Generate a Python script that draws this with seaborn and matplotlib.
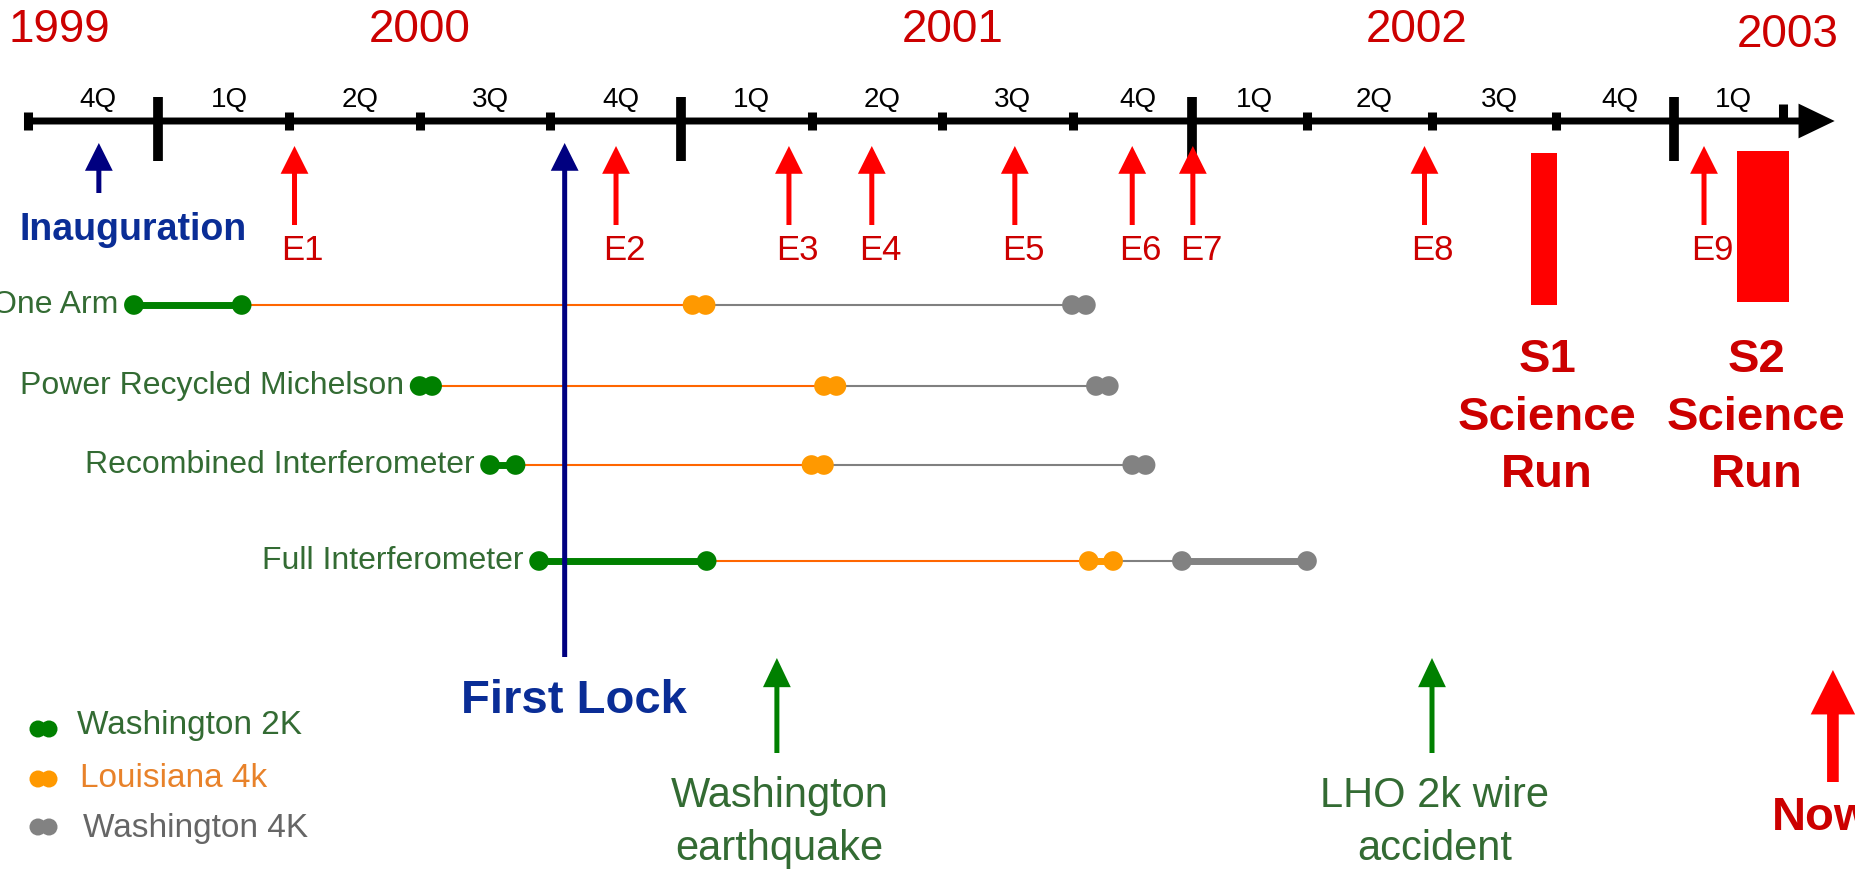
import numpy as np
import pandas as pd
import matplotlib
matplotlib.use("Agg")
import matplotlib.pyplot as plt
import seaborn as sns

# quarter boundaries of the hand-drawn time axis and where they sit on the slide (px)
quarter_dates = [1999.5 + 0.25 * i for i in range(17)]
quarter_px = [-103.1, 27.7, 158.5, 289.3, 419.6, 550, 681, 812, 942, 1073,
              1192.4, 1307, 1432, 1556, 1674.5, 1783, 1891.5]

years = ["1999", "2000", "2001", "2002", "2003"]
year_label_x = [1999.81, 2000.50, 2001.52, 2002.47, 2003.26]
quarter_starts = [1999.75 + 0.25 * i for i in range(14)]
quarter_names = ["4Q", "1Q", "2Q", "3Q", "4Q", "1Q", "2Q", "3Q", "4Q",
                 "1Q", "2Q", "3Q", "4Q", "1Q"]

# engineering runs
events = ["E1", "E2", "E3", "E4", "E5", "E6", "E7", "E8", "E9"]
event_dates = [2000.26, 2000.876, 2001.206, 2001.365, 2001.639, 2001.874,
               2002.001, 2002.485, 2003.068]

inauguration = 1999.886
first_lock = 2000.778
runs = ["S1", "S2"]
run_start = [2002.70, 2003.145]
run_end = [2002.753, 2003.264]
incidents = ["Washington\nearthquake", "LHO 2k wire\naccident"]
incident_dates = [2001.183, 2002.50]
now_date = 2003.365

# commissioning milestones per configuration
rows = ["One Arm", "Power Recycled Michelson", "Recombined Interferometer",
        "Full Interferometer"]
wa2k_start = [1999.953, 2000.500, 2000.635, 2000.729]
wa2k_end = [2000.159, 2000.524, 2000.684, 2001.049]
la4k_start = [2001.022, 2001.273, 2001.249, 2001.783]
la4k_end = [2001.047, 2001.297, 2001.273, 2001.834]
wa4k_start = [2001.748, 2001.798, 2001.874, 2001.978]
wa4k_end = [2001.777, 2001.825, 2001.902, 2002.250]

sites = ["Washington 2K", "Louisiana 4k", "Washington 4K"]
site_colors = {"Washington 2K": "#008000", "Louisiana 4k": "#FF9900",
               "Washington 4K": "#828282"}
site_text = {"Washington 2K": "#336B33", "Louisiana 4k": "#E8822A",
             "Washington 4K": "#666666"}

row_y = [305, 386, 465, 561]

sns.set_theme(style="white")
plt.rcParams["font.family"] = ["Liberation Sans", "DejaVu Sans"]

RED, DRED, NAVY, NAVYT, GREEN, GTXT = "#FF0000", "#CC0000", "#000080", "#0A2D96", "#008000", "#336B33"

fig = plt.figure(figsize=(18.55, 8.71), dpi=100)
ax = fig.add_axes([0, 0, 1, 1])
ax.set_xscale("function", functions=(lambda d: np.interp(d, quarter_dates, quarter_px),
                                      lambda p: np.interp(p, quarter_px, quarter_dates)))
ax.axis("off")


def arrow(x, top, bottom, color, tail, hw, hl):
    ax.annotate("", xy=(x, top), xytext=(x, bottom),
                arrowprops=dict(arrowstyle=f"simple,head_length={hl},head_width={hw},tail_width={tail}",
                                mutation_scale=1, color=color, lw=0, shrinkA=0, shrinkB=0))


# time axis
tip = 2003.369
ax.annotate("", xy=(tip, 121), xytext=(1999.75, 121),
            arrowprops=dict(arrowstyle="simple,head_length=26,head_width=25,tail_width=5",
                            mutation_scale=1, color="black", lw=0, shrinkA=0, shrinkB=0))
big = [2000.0, 2001.0, 2002.0, 2003.0]
small = [d for d in quarter_dates[1:-2] if d not in big]
ax.vlines(big, 97, 161, color="black", lw=7)
ax.vlines(small, 112, 130, color="black", lw=6.5)
ax.vlines([2003.25], 104, 121, color="black", lw=6.5)

for name, x in zip(years, year_label_x):
    yb = 47 if name == "2003" else 42
    ax.text(x, yb, name, fontsize=33, color=DRED, ha="center", va="baseline")
for name, x in zip(quarter_names, quarter_starts):
    ax.text(x + 0.135, 107, name, fontsize=20, color="black", ha="center", va="baseline")

# engineering runs
for name, x in zip(events, event_dates):
    arrow(x, 146, 225, RED, 3.6, 20, 20)
    ax.annotate(name, xy=(x, 260), xytext=(6, 0), textcoords="offset points",
                fontsize=25, color=DRED, ha="center", va="baseline")

# inauguration and first lock
arrow(inauguration, 143, 193, NAVY, 3.6, 20, 20)
ax.annotate("Inauguration", xy=(inauguration, 240), xytext=(25, 0), textcoords="offset points",
            fontsize=27, fontweight="bold", color=NAVYT, ha="center", va="baseline")
arrow(first_lock, 143, 657, NAVY, 3.6, 20, 20)
ax.annotate("First Lock", xy=(first_lock, 713), xytext=(7, 0), textcoords="offset points",
            fontsize=34, fontweight="bold", color=NAVYT, ha="center", va="baseline")

# science runs
ax.bar(run_start, [152, 151], width=np.array(run_end) - np.array(run_start),
       bottom=[153, 151], align="edge", color=RED, linewidth=0)
for name, s, e, dx in zip(runs, run_start, run_end, [2, -5]):
    for j, line in enumerate([name, "Science", "Run"]):
        ax.annotate(line, xy=((s + e) / 2, 372 + 57.5 * j), xytext=(dx, 0),
                    textcoords="offset points", fontsize=34, fontweight="bold",
                    color=DRED, ha="center", va="baseline")

# incidents
for label, x in zip(incidents, incident_dates):
    arrow(x, 658, 753, GREEN, 3.6, 20, 21)
    for j, line in enumerate(label.split("\n")):
        ax.annotate(line, xy=(x, 807 + 53 * j), xytext=(2, 0), textcoords="offset points",
                    fontsize=30, color=GTXT, ha="center", va="baseline")

arrow(now_date, 670, 782, RED, 8.4, 32, 32)
ax.annotate("Now", xy=(now_date, 830), xytext=(-44, 0), textcoords="offset points",
            fontsize=34, fontweight="bold", color=DRED, ha="left", va="baseline")

# commissioning rows
for i, y in enumerate(row_y):
    ax.plot([wa2k_end[i], la4k_start[i]], [y, y], color="#FF6600", lw=1.5, zorder=1)
    ax.plot([la4k_end[i], wa4k_start[i]], [y, y], color="#808080", lw=1.5, zorder=1)
    for site, s, e in zip(sites, [wa2k_start, la4k_start, wa4k_start], [wa2k_end, la4k_end, wa4k_end]):
        ax.plot([s[i], e[i]], [y, y], color=site_colors[site], lw=5, zorder=2,
                solid_capstyle="butt")
    ax.annotate(rows[i], xy=(wa2k_start[i], y + 8), xytext=(-11, 0), textcoords="offset points",
                fontsize=23, color=GTXT, ha="right", va="baseline")

recs = []
for i, r in enumerate(rows):
    for site, s, e in zip(sites, [wa2k_start, la4k_start, wa4k_start], [wa2k_end, la4k_end, wa4k_end]):
        recs.append({"row": r, "site": site, "date": s[i], "y": row_y[i]})
        recs.append({"row": r, "site": site, "date": e[i], "y": row_y[i]})
dots = pd.DataFrame(recs)
sns.scatterplot(data=dots, x="date", y="y", hue="site", palette=site_colors, s=200,
                linewidth=0, legend=False, ax=ax, zorder=3)

ax.set_xlim(np.interp([0, 1855], quarter_px, quarter_dates))
ax.set_ylim(871, 0)
ax.set_xlabel("")
ax.set_ylabel("")

# legend drawn as on the slide
ov = fig.add_axes([0, 0, 1, 1], facecolor="none")
ov.set_xlim(0, 1855)
ov.set_ylim(871, 0)
ov.axis("off")
leg = pd.DataFrame({"site": np.repeat(sites, 2), "x": [38, 49] * 3,
                    "y": np.repeat([729, 779, 827], 2)})
sns.scatterplot(data=leg, x="x", y="y", hue="site", palette=site_colors, s=150,
                linewidth=0, legend=False, ax=ov)
for site, yb, xt in zip(sites, [734, 787, 837], [77, 80, 83]):
    ov.text(xt, yb, site, fontsize=24, color=site_text[site], ha="left", va="baseline")
ov.set_xlabel("")
ov.set_ylabel("")

fig.savefig("out.png", dpi=100)
